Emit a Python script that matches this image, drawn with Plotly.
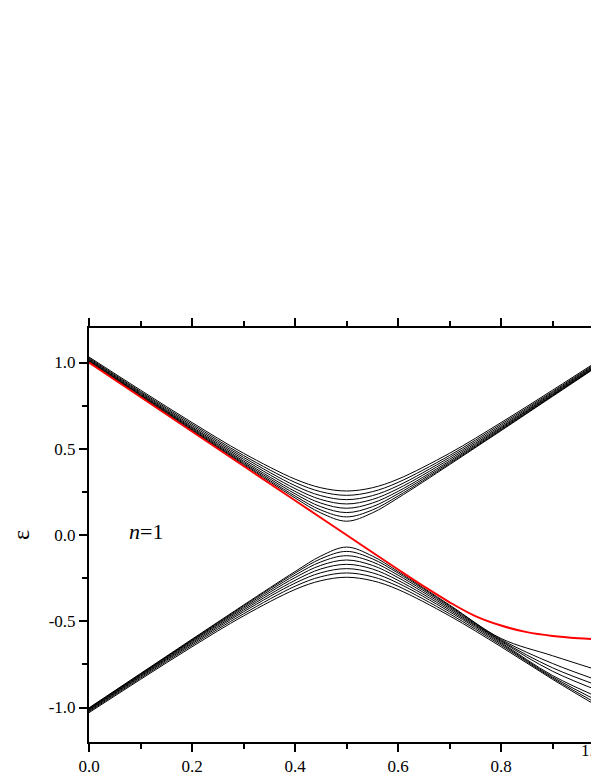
import plotly.graph_objects as go

# sample positions along x (shared by all black curves)
x_pts = [0.0, 0.1, 0.2, 0.3, 0.4, 0.45, 0.5, 0.55, 0.6, 0.7, 0.8, 0.9, 1.0]

# upper branch (one list per curve)
upper_1 = [1.003, 0.804, 0.605, 0.408, 0.215, 0.128, 0.080, 0.128, 0.215, 0.408, 0.605, 0.804, 1.003]
upper_2 = [1.006, 0.807, 0.609, 0.414, 0.226, 0.145, 0.105, 0.145, 0.226, 0.414, 0.609, 0.807, 1.006]
upper_3 = [1.008, 0.811, 0.614, 0.421, 0.239, 0.164, 0.130, 0.164, 0.239, 0.421, 0.614, 0.811, 1.008]
upper_4 = [1.012, 0.815, 0.620, 0.429, 0.253, 0.185, 0.155, 0.185, 0.253, 0.429, 0.620, 0.815, 1.012]
upper_5 = [1.016, 0.820, 0.626, 0.439, 0.269, 0.206, 0.180, 0.206, 0.269, 0.439, 0.626, 0.820, 1.016]
upper_6 = [1.021, 0.826, 0.634, 0.450, 0.286, 0.228, 0.205, 0.228, 0.286, 0.450, 0.634, 0.826, 1.021]
upper_7 = [1.026, 0.832, 0.643, 0.461, 0.305, 0.251, 0.230, 0.251, 0.305, 0.461, 0.643, 0.832, 1.026]
upper_8 = [1.032, 0.840, 0.652, 0.474, 0.324, 0.274, 0.255, 0.274, 0.324, 0.474, 0.652, 0.840, 1.032]

# lower branch; the first few peel away from the bundle near x = 0.8
lower_1 = [-1.002, -0.803, -0.604, -0.406, -0.212, -0.122, -0.070, -0.122, -0.212, -0.406, -0.600, -0.700, -0.795]
lower_2 = [-1.005, -0.806, -0.608, -0.411, -0.221, -0.138, -0.095, -0.138, -0.221, -0.411, -0.606, -0.745, -0.855]
lower_3 = [-1.007, -0.809, -0.612, -0.418, -0.233, -0.156, -0.120, -0.156, -0.233, -0.418, -0.612, -0.770, -0.885]
lower_4 = [-1.011, -0.813, -0.617, -0.426, -0.247, -0.176, -0.145, -0.176, -0.247, -0.426, -0.617, -0.790, -0.915]
lower_5 = [-1.014, -0.818, -0.624, -0.435, -0.263, -0.197, -0.170, -0.197, -0.263, -0.435, -0.624, -0.815, -0.955]
lower_6 = [-1.019, -0.823, -0.631, -0.445, -0.279, -0.219, -0.195, -0.219, -0.279, -0.445, -0.631, -0.823, -0.980]
lower_7 = [-1.024, -0.830, -0.639, -0.457, -0.297, -0.242, -0.220, -0.242, -0.297, -0.457, -0.639, -0.830, -1.000]
lower_8 = [-1.030, -0.837, -0.648, -0.469, -0.316, -0.265, -0.245, -0.265, -0.316, -0.469, -0.648, -0.837, -1.015]

# red curve
red_x = [0.0, 0.1, 0.2, 0.3, 0.4, 0.5, 0.6, 0.65, 0.7, 0.75, 0.8, 0.85, 0.9, 0.95, 1.0]
red_y = [1.0, 0.8, 0.6, 0.4, 0.2, 0.0, -0.2, -0.298, -0.39, -0.47, -0.525, -0.563, -0.585, -0.598, -0.606]

y_ticks = [-1.0, -0.5, 0.0, 0.5, 1.0]
y_labels = ['-1.0', '-0.5', '0.0', '0.5', '1.0']
x_ticks = [0.0, 0.2, 0.4, 0.6, 0.8, 1.0]
x_labels = ['0.0', '0.2', '0.4', '0.6', '0.8', '1.0']

black_curves = [upper_1, upper_2, upper_3, upper_4, upper_5, upper_6, upper_7, upper_8,
                lower_1, lower_2, lower_3, lower_4, lower_5, lower_6, lower_7, lower_8]

FONT = 'Liberation Serif'

fig = go.Figure()
for ys in black_curves:
    fig.add_trace(go.Scatter(
        x=x_pts, y=ys, mode='lines',
        line=dict(color='black', width=1, shape='spline', smoothing=1.0),
        showlegend=False, hoverinfo='skip',
    ))

fig.add_trace(go.Scatter(
    x=red_x, y=red_y, mode='lines',
    line=dict(color='#ff0000', width=2, shape='spline', smoothing=1.0),
    showlegend=False, hoverinfo='skip',
))

axis_common = dict(
    showline=True, linecolor='black', linewidth=2,
    ticks='outside', ticklen=8, tickwidth=1.5, tickcolor='black',
    showgrid=False, zeroline=False,
    tickfont=dict(family=FONT, size=17, color='black'),
)

fig.update_xaxes(
    range=[0, 0.99], tickvals=x_ticks, ticktext=x_labels, mirror='ticks',
    minor=dict(ticks='outside', ticklen=5, tickwidth=1.5, tickcolor='black', dtick=0.1, tick0=0),
    **axis_common,
)
fig.update_yaxes(
    range=[-1.2, 1.2], tickvals=y_ticks, ticktext=y_labels,
    minor=dict(ticks='outside', ticklen=5, tickwidth=1.5, tickcolor='black', dtick=0.25, tick0=0),
    title=dict(text='ε', font=dict(family=FONT, size=24, color='black'), standoff=20),
    **axis_common,
)

fig.add_annotation(x=0.11, y=0.02, xref='x', yref='y', text='<i>n</i>=1',
                   showarrow=False, font=dict(family=FONT, size=22, color='black'))
# the 1.0 tick label sits just past the window edge
fig.add_annotation(x=(604 - 89) / 510, y=0, xref='paper', yref='paper', yshift=-20,
                   text='1.0', showarrow=False, font=dict(family=FONT, size=17, color='black'))

# page body adds an 8 px offset, so the figure is 8 px smaller on each shown side
fig.update_layout(
    width=591, height=768,
    margin=dict(l=81, r=0, t=320, b=26),
    plot_bgcolor='white', paper_bgcolor='white',
)

fig.write_html("out.html")
